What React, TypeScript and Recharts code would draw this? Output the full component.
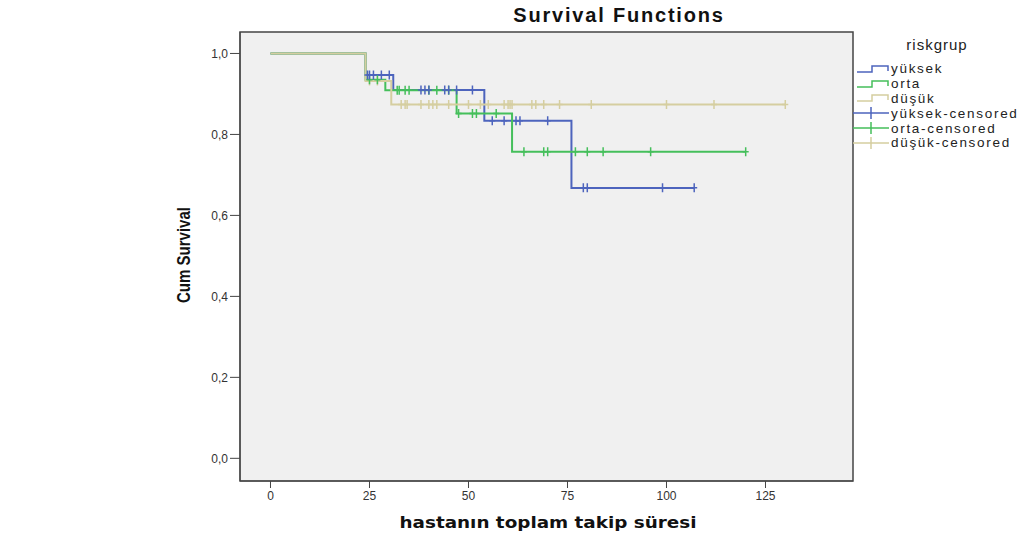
import { ComposedChart, Line, Scatter, XAxis, YAxis, CartesianGrid, ReferenceArea, Label } from 'recharts'

// yüksek
const yuksekTimes = [0, 24, 31, 54, 76, 107]
const yuksekSurv = [1, 0.947, 0.91, 0.834, 0.668, 0.668]
const yuksekCensored = [24.5, 25, 26, 28, 30, 38, 39, 40, 44, 45, 47, 51, 56, 59, 62, 63, 70, 79, 80, 99, 107]

// orta
const ortaTimes = [0, 24, 29, 47, 61, 120]
const ortaSurv = [1, 0.935, 0.909, 0.852, 0.757, 0.757]
const ortaCensored = [25, 27, 32, 32.5, 34, 35, 40, 42, 45, 47.5, 51, 52, 57, 64, 69, 70, 77, 80, 84, 96, 120]

// düşük
const dusukTimes = [0, 24, 30.5, 130]
const dusukSurv = [1, 0.932, 0.874, 0.874]
const dusukCensored = [25, 27, 33, 34, 34.5, 38, 40, 41, 42, 45, 50, 53, 55, 59, 60, 60.5, 61, 66, 67, 69, 73, 81, 100, 112, 130]

const xTicks = [0, 25, 50, 75, 100, 125]
const yTicks = [0, 0.2, 0.4, 0.6, 0.8, 1]

const BLUE = '#4d64bd'
const GREEN = '#45bf5b'
const TAN = '#d5cea0'

const stepData = (times: number[], surv: number[]) => times.map((t, i) => ({ t, s: surv[i] }))

const censorData = (times: number[], surv: number[], cens: number[]) =>
    cens.map(c => {
        let s = surv[0]
        times.forEach((t, i) => {
            if (t <= c) s = surv[i]
        })
        return { t: c, s }
    })

const cross = (color: string) => (props: any) => {
    const { cx, cy } = props
    return (
        <path
            d={`M${cx - 3},${cy}H${cx + 3}M${cx},${cy - 4.5}V${cy + 4.5}`}
            stroke={color}
            strokeWidth={1.5}
            fill="none"
        />
    )
}

const legendItems = [
    { name: 'yüksek', color: BLUE, censored: false },
    { name: 'orta', color: GREEN, censored: false },
    { name: 'düşük', color: TAN, censored: false },
    { name: 'yüksek-censored', color: BLUE, censored: true },
    { name: 'orta-censored', color: GREEN, censored: true },
    { name: 'düşük-censored', color: TAN, censored: true },
]

const YLabel = () => (
    <text
        x={183}
        y={255}
        transform="rotate(-90 183 255)"
        textAnchor="middle"
        dominantBaseline="central"
        fontFamily="'Liberation Sans Narrow', 'Liberation Sans', Arial, sans-serif"
        fontWeight="bold"
        fontSize={19}
        textLength={96}
        lengthAdjust="spacingAndGlyphs"
        fill="#111"
    >
        Cum Survival
    </text>
)

const XLabel = () => (
    <text
        x={548}
        y={528}
        textAnchor="middle"
        fontFamily="'DejaVu Sans', Verdana, sans-serif"
        fontWeight="bold"
        fontSize={16}
        textLength={297}
        lengthAdjust="spacingAndGlyphs"
        fill="#111"
    >
        hastanın toplam takip süresi
    </text>
)

export default function App() {
    const fmt = (v: number) => v.toFixed(1).replace('.', ',')
    return (
        <div style={{ position: 'absolute', left: 0, top: 0, width: 1020, height: 538, background: '#fff', fontFamily: "'Liberation Sans', Arial, sans-serif" }}>
            <div style={{ position: 'absolute', left: 0, width: 1238, top: 4, textAlign: 'center', fontSize: 20, fontWeight: 'bold', letterSpacing: 1.8, color: '#111' }}>
                Survival Functions
            </div>
            <ComposedChart
                width={1020}
                height={538}
                margin={{ top: 32, right: 167, bottom: 7, left: 180 }}
                style={{ fontFamily: "'Liberation Sans', Arial, sans-serif" }}
            >
                <CartesianGrid fill="#f0f0f0" horizontal={false} vertical={false} />
                <XAxis
                    dataKey="t"
                    type="number"
                    domain={[-7.7, 147.1]}
                    ticks={xTicks}
                    allowDataOverflow
                    height={50}
                    tickSize={7}
                    tickMargin={3}
                    stroke="#444"
                    tick={{ fill: '#333', fontSize: 12 }}
                >
                    <Label content={<XLabel />} />
                </XAxis>
                <YAxis
                    type="number"
                    domain={[-0.056, 1.053]}
                    ticks={yTicks}
                    allowDataOverflow
                    width={60}
                    tickSize={10}
                    tickMargin={2}
                    tickFormatter={fmt}
                    stroke="#444"
                    tick={{ fill: '#333', fontSize: 12 }}
                >
                    <Label content={<YLabel />} />
                </YAxis>
                <ReferenceArea x1={-7.7} x2={147.1} y1={-0.056} y2={1.053} fill="none" stroke="#444" strokeWidth={1.5} />
                <Line data={stepData(yuksekTimes, yuksekSurv)} dataKey="s" type="stepAfter" stroke={BLUE} strokeWidth={2} dot={false} isAnimationActive={false} />
                <Line data={stepData(ortaTimes, ortaSurv)} dataKey="s" type="stepAfter" stroke={GREEN} strokeWidth={2} dot={false} isAnimationActive={false} />
                <Line data={stepData(dusukTimes, dusukSurv)} dataKey="s" type="stepAfter" stroke={TAN} strokeWidth={2} dot={false} isAnimationActive={false} />
                <Scatter data={censorData(dusukTimes, dusukSurv, dusukCensored)} dataKey="s" shape={cross(TAN)} isAnimationActive={false} />
                <Scatter data={censorData(ortaTimes, ortaSurv, ortaCensored)} dataKey="s" shape={cross(GREEN)} isAnimationActive={false} />
                <Scatter data={censorData(yuksekTimes, yuksekSurv, yuksekCensored)} dataKey="s" shape={cross(BLUE)} isAnimationActive={false} />
            </ComposedChart>
            <div style={{ position: 'absolute', left: 852, top: 35, width: 170, fontSize: 13.5, color: '#222' }}>
                <div style={{ textAlign: 'center', fontSize: 15, letterSpacing: 1, height: 26.5, lineHeight: '20px' }}>riskgrup</div>
                {legendItems.map(item => (
                    <div key={item.name} style={{ display: 'flex', alignItems: 'center', height: 14.8, letterSpacing: 1.7 }}>
                        <svg width={38} height={14} style={{ flex: 'none' }}>
                            {item.censored ? (
                                <path d="M1,7H37M19,1V13" stroke={item.color} strokeWidth={1.5} fill="none" />
                            ) : (
                                <path d="M5,10H20V4H36V9" stroke={item.color} strokeWidth={1.5} fill="none" />
                            )}
                        </svg>
                        <span style={{ marginLeft: 1 }}>{item.name}</span>
                    </div>
                ))}
            </div>
        </div>
    )
}
